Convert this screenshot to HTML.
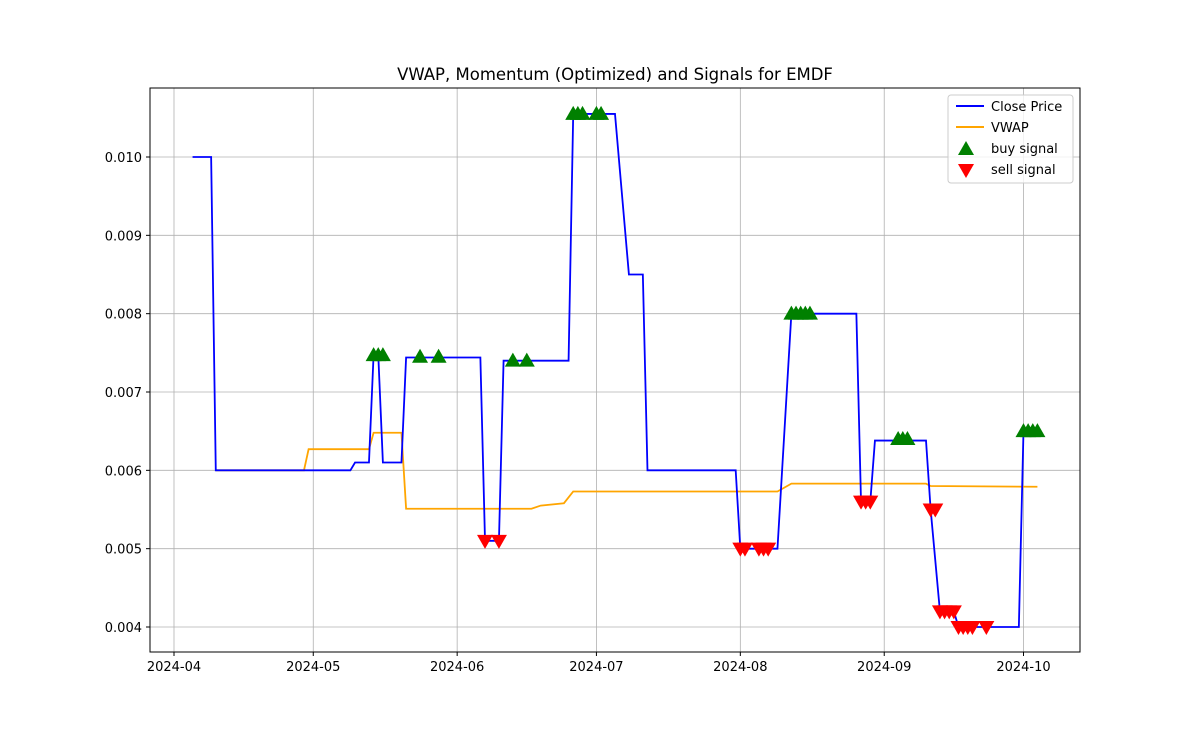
<!DOCTYPE html>
<html><head><meta charset="utf-8"><style>
body{margin:0;background:#fff;}
svg text{font-family:"DejaVu Sans","Liberation Sans",sans-serif;}
</style></head><body>
<svg id="chart" width="1200" height="733" xmlns="http://www.w3.org/2000/svg">
<rect width="1200" height="733" fill="#fff"/>
<text x="615" y="80" font-size="16.5" text-anchor="middle">VWAP, Momentum (Optimized) and Signals for EMDF</text>
<g id="grid"></g><g id="axes"></g><g id="series"></g>
<rect x="150" y="88" width="930" height="564" fill="none" stroke="#000" stroke-width="1"/>
<g>
<rect x="948" y="95" width="125" height="88" fill="#fff" fill-opacity="0.8" stroke="#ccc" rx="3"/>
<line x1="956" y1="106" x2="984" y2="106" stroke="blue" stroke-width="2"/>
<text x="991" y="111" font-size="13">Close Price</text>
<line x1="956" y1="127" x2="984" y2="127" stroke="orange" stroke-width="2"/>
<text x="991" y="132" font-size="13">VWAP</text>
<polygon points="966,141 974,155 958,155" fill="green"/>
<text x="991" y="153" font-size="13">buy signal</text>
<polygon points="958,164 974,164 966,178" fill="red"/>
<text x="991" y="174" font-size="13">sell signal</text>
</g>
</svg>
<script>
const priceDates=["2024-04-05","2024-04-09","2024-04-10","2024-05-09","2024-05-10","2024-05-13","2024-05-14","2024-05-15","2024-05-16","2024-05-20","2024-05-21","2024-06-06","2024-06-07","2024-06-10","2024-06-11","2024-06-25","2024-06-26","2024-07-05","2024-07-08","2024-07-11","2024-07-12","2024-07-31","2024-08-01","2024-08-09","2024-08-12","2024-08-26","2024-08-27","2024-08-29","2024-08-30","2024-09-10","2024-09-11","2024-09-13","2024-09-16","2024-09-17","2024-09-30","2024-10-01","2024-10-04"];
const priceVals=[0.0100,0.0100,0.0060,0.0060,0.0061,0.0061,0.00748,0.00748,0.0061,0.0061,0.00744,0.00744,0.0051,0.0051,0.0074,0.0074,0.01055,0.01055,0.0085,0.0085,0.0060,0.0060,0.0050,0.0050,0.0080,0.0080,0.0056,0.0056,0.00638,0.00638,0.0055,0.0042,0.0042,0.0040,0.0040,0.0065,0.0065];
const vwapDates=["2024-04-10","2024-04-29","2024-04-30","2024-05-13","2024-05-14","2024-05-20","2024-05-21","2024-06-17","2024-06-19","2024-06-24","2024-06-26","2024-08-09","2024-08-12","2024-09-10","2024-09-11","2024-10-04"];
const vwapVals=[0.0060,0.0060,0.00627,0.00627,0.00648,0.00648,0.00551,0.00551,0.00555,0.00558,0.00573,0.00573,0.00583,0.00583,0.0058,0.00579];
const buyDates=["2024-05-14","2024-05-15","2024-05-16","2024-05-24","2024-05-28","2024-06-13","2024-06-16","2024-06-26","2024-06-27","2024-06-28","2024-07-01","2024-07-02","2024-08-12","2024-08-13","2024-08-14","2024-08-15","2024-08-16","2024-09-04","2024-09-05","2024-09-06","2024-10-01","2024-10-02","2024-10-03","2024-10-04"];
const buyVals=[0.00747,0.00747,0.00747,0.00745,0.00745,0.0074,0.0074,0.01055,0.01055,0.01055,0.01055,0.01055,0.0080,0.0080,0.0080,0.0080,0.0080,0.0064,0.0064,0.0064,0.0065,0.0065,0.0065,0.0065];
const sellDates=["2024-06-07","2024-06-10","2024-08-01","2024-08-02","2024-08-05","2024-08-06","2024-08-07","2024-08-27","2024-08-28","2024-08-29","2024-09-11","2024-09-12","2024-09-13","2024-09-14","2024-09-15","2024-09-16","2024-09-17","2024-09-18","2024-09-19","2024-09-20","2024-09-23"];
const sellVals=[0.0051,0.0051,0.0050,0.0050,0.0050,0.0050,0.0050,0.0056,0.0056,0.0056,0.0055,0.0055,0.0042,0.0042,0.0042,0.0042,0.0040,0.0040,0.0040,0.0040,0.0040];
const xTickLabels=["2024-04","2024-05","2024-06","2024-07","2024-08","2024-09","2024-10"];
const yTicks=[0.004,0.005,0.006,0.007,0.008,0.009,0.010];

const NS="http://www.w3.org/2000/svg";
const base=Date.UTC(2024,3,1);
function day(s){const p=s.split("-");return (Date.UTC(+p[0],+p[1]-1,+p[2])-base)/86400000;}
function X(s){return 174+day(s)*4.642;}
function Y(v){return 627-(v-0.004)*78333;}
function mk(tag,attrs,parent){const e=document.createElementNS(NS,tag);for(const k in attrs)e.setAttribute(k,attrs[k]);parent.appendChild(e);return e;}
const grid=document.getElementById("grid"),axes=document.getElementById("axes"),ser=document.getElementById("series");
xTickLabels.forEach(t=>{const x=X(t+"-01");
 const g=mk("line",{x1:x,x2:x,y1:88,y2:652,stroke:"#b0b0b0","stroke-width":0.8},grid);
 
 
 mk("line",{x1:x,x2:x,y1:652,y2:656,stroke:"#000"},axes);
 const tx=mk("text",{x:x,y:671,"font-size":13,"text-anchor":"middle"},axes);tx.textContent=t;
 
 
});
yTicks.forEach(v=>{const y=Y(v);
 const g=mk("line",{x1:150,x2:1080,y1:y,y2:y,stroke:"#b0b0b0","stroke-width":0.8},grid);
 
 
 mk("line",{x1:146,x2:150,y1:y,y2:y,stroke:"#000"},axes);
 const tx=mk("text",{x:142,y:y+5,"font-size":13,"text-anchor":"end"},axes);tx.textContent=v.toFixed(3);
 
 
});
function line(ds,vs,col,name){const pts=ds.map((d,i)=>X(d)+","+Y(vs[i])).join(" ");
 const l=mk("polyline",{points:pts,fill:"none",stroke:col,"stroke-width":1.8},ser);
 
 }
line(vwapDates,vwapVals,"orange","vwap-line");
line(priceDates,priceVals,"blue","close-price-line");
buyDates.forEach((d,i)=>{const x=X(d),y=Y(buyVals[i]);
 const p=mk("polygon",{points:`${x},${y-8} ${x+8},${y+6} ${x-8},${y+6}`,fill:"green"},ser);
 
 });
sellDates.forEach((d,i)=>{const x=X(d),y=Y(sellVals[i]);
 const p=mk("polygon",{points:`${x-8},${y-6} ${x+8},${y-6} ${x},${y+8}`,fill:"red"},ser);
 
 });
</script>
</body></html>
